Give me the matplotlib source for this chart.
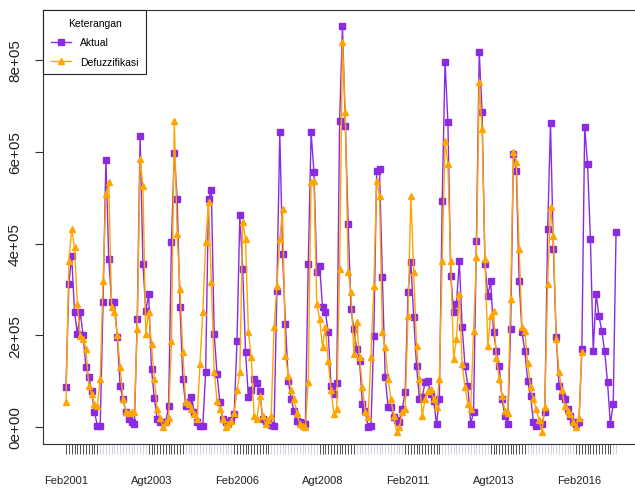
import numpy as np
import matplotlib
matplotlib.use("Agg")
import matplotlib.pyplot as plt

# Monthly values (thousands), Feb 2001 onward
aktual_k = [
    87, 312, 372, 250, 203, 250, 200, 130, 109, 79, 33, 2,
    2, 272, 582, 366, 272, 272, 196, 89, 60, 33, 18, 11,
    7, 235, 634, 355, 253, 290, 126, 63, 17, 12, 10, 11,
    46, 403, 597, 497, 261, 105, 46, 55, 65, 33, 10, 2,
    2, 120, 497, 516, 203, 115, 54, 17, 11, 7, 15, 28,
    187, 462, 344, 163, 65, 80, 105, 95, 79, 17, 14, 11,
    5, 2, 297, 642, 377, 224, 100, 61, 35, 13, 10, 8,
    7, 355, 642, 556, 338, 351, 261, 251, 207, 89, 72, 95,
    667, 874, 656, 442, 257, 214, 170, 144, 50, 35, 0, 2,
    198, 558, 562, 327, 109, 44, 44, 22, 15, 11, 40, 76,
    294, 360, 240, 133, 61, 65, 98, 100, 72, 57, 7, 61,
    492, 796, 665, 329, 251, 268, 362, 218, 133, 89, 7, 33,
    405, 817, 686, 355, 286, 318, 207, 166, 133, 60, 24, 7,
    214, 595, 558, 318, 207, 166, 100, 68, 11, 2, 5, 7,
    33, 431, 662, 388, 196, 89, 68, 61, 40, 24, 10, 7,
    11, 170, 654, 573, 410, 166, 290, 242, 209, 166, 98, 7,
    50, 425,
]
defuzz_k = [
    54, 362, 431, 392, 268, 198, 192, 170, 89, 72, 50, 45,
    105, 318, 508, 534, 261, 251, 200, 131, 61, 33, 30, 33,
    33, 214, 584, 525, 203, 251, 180, 105, 39, 20, 0, 10,
    20, 187, 667, 421, 301, 163, 55, 50, 40, 28, 17, 137,
    251, 403, 490, 316, 120, 57, 40, 17, 0, 7, 13, 30,
    80, 120, 447, 410, 207, 153, 24, 17, 68, 24, 7, 15,
    24, 218, 307, 410, 475, 155, 111, 80, 61, 30, 7, 3,
    0, 98, 534, 536, 268, 235, 174, 218, 144, 80, 28, 40,
    344, 839, 686, 338, 294, 159, 229, 153, 87, 33, 22, 153,
    307, 536, 503, 207, 174, 105, 61, 24, -11, 0, 33, 39,
    242, 503, 338, 177, 105, 24, 61, 79, 83, 60, 44, 105,
    362, 623, 573, 362, 148, 192, 290, 137, 87, 50, 40, 209,
    370, 752, 649, 366, 177, 242, 253, 150, 105, 68, 35, 30,
    279, 599, 577, 388, 218, 209, 140, 87, 60, 39, 15, -11,
    44, 312, 479, 416, 192, 120, 80, 46, 35, 28, 10, 0,
    20, 163,
]
x_labels = ["Feb2001", "Agt2003", "Feb2006", "Agt2008", "Feb2011", "Agt2013", "Feb2016"]
label_step = 30
y_ticks = [0, 2e5, 4e5, 6e5, 8e5]
y_tick_labels = ["0e+00", "2e+05", "4e+05", "6e+05", "8e+05"]
series_names = ["Aktual", "Defuzzifikasi"]
legend_title = "Keterangan"

aktual = np.array(aktual_k, dtype=float) * 1000
defuzz = np.array(defuzz_k, dtype=float) * 1000
n = len(aktual)
idx = np.arange(n)

font = ["Liberation Sans", "DejaVu Sans"]

fig = plt.figure(figsize=(6.35, 4.89), dpi=100)
ax = fig.add_axes([43 / 635, 44 / 489, 595 / 635, 434 / 489])

purple = "#8A2BE2"
orange = "#FFA500"
ax.plot(idx, aktual, color=purple, lw=1.0, marker="s", ms=5, mec=purple,
        mfc=purple, label=series_names[0], zorder=3)
ax.plot(np.arange(len(defuzz)), defuzz, color=orange, lw=1.0, marker="^", ms=5,
        mec=orange, mfc=orange, label=series_names[1], zorder=4)

ax.set_xlim(-8.07, 200.7)
ax.set_ylim(-37000, 909000)

for s in ax.spines.values():
    s.set_color("#333333")
    s.set_linewidth(0.8)

# labelled ticks every 30 months
lab_pos = np.arange(0, n, label_step)[:len(x_labels)]
ax.set_xticks(lab_pos)
ax.set_xticklabels(x_labels[:len(lab_pos)], fontfamily=font, fontsize=8, color="#222222")
ax.tick_params(axis="x", length=7.2, width=0.7, pad=15, color="#555555")

# monthly rug ticks below the axis
dark = ((idx + 1) % label_step) < 13
tick_h = 10 / 434
ax.vlines(idx[dark], -tick_h, 0, transform=ax.get_xaxis_transform(), clip_on=False,
          colors="#555555", linewidth=0.7)
ax.vlines(idx[~dark], -tick_h, 0, transform=ax.get_xaxis_transform(), clip_on=False,
          colors="#d0d3e4", linewidth=0.7)

ax.set_yticks(y_ticks)
ax.set_yticklabels(y_tick_labels, rotation=90, va="center", fontfamily=font,
                   fontsize=11, color="#222222")
ax.tick_params(axis="y", length=5.8, width=0.8, pad=9.4, color="#333333")

leg = ax.legend(title=legend_title, loc="upper left", bbox_to_anchor=(0, 1),
                borderaxespad=0, fancybox=False, framealpha=1, edgecolor="#222222",
                prop={"family": font, "size": 7.5},
                title_fontproperties={"family": font, "size": 7.5},
                handlelength=1.9, handletextpad=0.9, labelspacing=0.9, borderpad=0.75,
                numpoints=1)
leg.get_frame().set_linewidth(0.8)
for h in leg.legend_handles:
    h.set_markersize(4.5)

fig.savefig("out.png", dpi=100)
